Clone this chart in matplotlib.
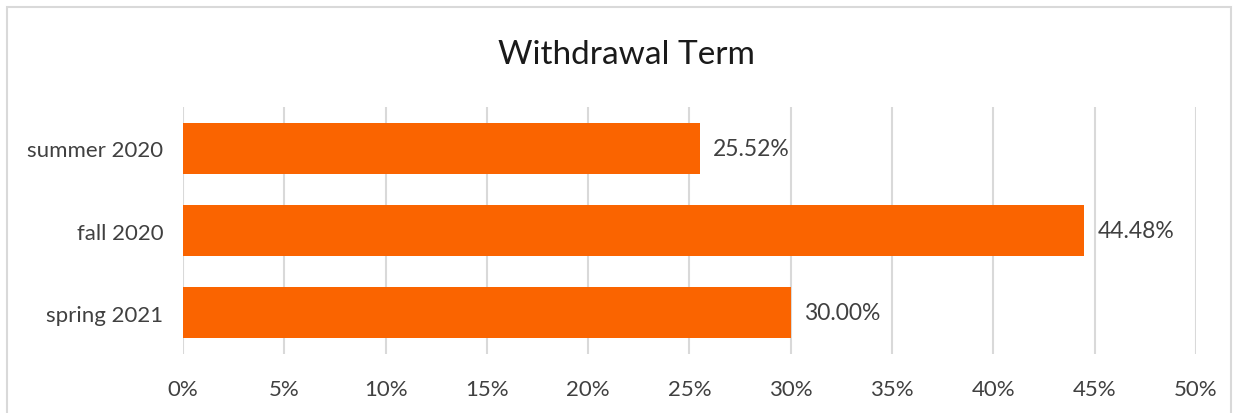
import matplotlib
matplotlib.use('Agg')
import matplotlib.pyplot as plt
from matplotlib.patches import Rectangle
import numpy as np

terms = ['summer 2020', 'fall 2020', 'spring 2021']
shares = [25.52, 44.48, 30.00]
tick_values = [0, 5, 10, 15, 20, 25, 30, 35, 40, 45, 50]

plt.rcParams['font.family'] = ['Lato', 'DejaVu Sans']
text_color = '#404040'

fig = plt.figure(figsize=(12.34, 4.14), dpi=100)
ax = fig.add_axes([0.1483, 0.1425, 0.8209, 0.5965])

# outer chart border
fig.patches.append(Rectangle((7 / 1234, -0.05), 1224 / 1234, 1 - 8 / 414 + 0.05,
                             transform=fig.transFigure, fill=False,
                             edgecolor='#D9D9D9', linewidth=1.5))

y_pos = np.arange(len(terms))
bars = ax.barh(y_pos, shares, height=0.62, color='#FA6400', zorder=3)

for bar, val in zip(bars, shares):
    ax.text(bar.get_width() + 0.65, bar.get_y() + bar.get_height() / 2, f'{val:.2f}%',
            va='center', ha='left', fontsize=16.5, color=text_color)

ax.set_xlim(0, 50)
ax.set_ylim(len(terms) - 0.5, -0.5)
ax.set_xticks(tick_values)
ax.set_xticklabels([f'{t}%' for t in tick_values], fontsize=16, color=text_color)
ax.set_yticks(y_pos)
ax.set_yticklabels(terms, fontsize=16, color=text_color)
ax.tick_params(axis='both', length=0)
ax.tick_params(axis='x', pad=18)
ax.tick_params(axis='y', pad=14)
ax.grid(axis='x', color='#D9D9D9', linewidth=1.5, zorder=0)
for side in ['top', 'right', 'bottom', 'left']:
    ax.spines[side].set_visible(False)

fig.text(0.508, 0.868, 'Withdrawal Term', ha='center', va='center', fontsize=24, color='#1a1a1a')

fig.savefig('out.png', dpi=100)
